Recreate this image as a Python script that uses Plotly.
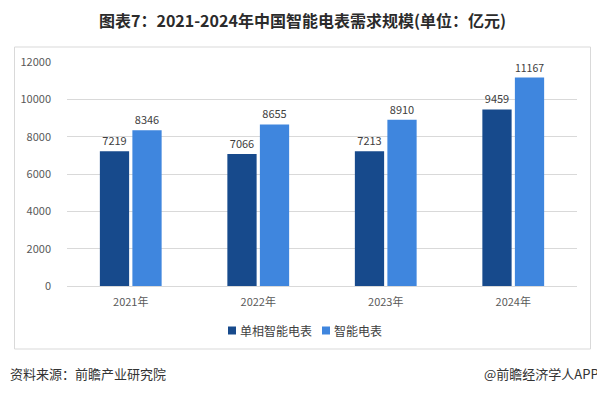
import plotly.graph_objects as go

categories = ["2021年", "2022年", "2023年", "2024年"]
single_phase = [7219, 7066, 7213, 9459]
smart_meter = [8346, 8655, 8910, 11167]
series_names = ["单相智能电表", "智能电表"]
y_ticks = [0, 2000, 4000, 6000, 8000, 10000, 12000]

FONT = "Noto Sans CJK SC, Microsoft YaHei, sans-serif"
DARK = "#174a8c"
LIGHT = "#3f86de"

# the page body has an 8px margin; work in figure pixels = reference pixels - 8
OFF = 8
W, H = 605 - OFF, 394 - OFF
L, R, T, B = 67 - OFF, 28, 62 - OFF, 108
pw, ph = W - L - R, H - T - B


def px_x(p):
    return (p - OFF - L) / pw


def px_y(p):
    return (H + OFF - B - p) / ph


fig = go.Figure()
for name, vals, col in [(series_names[0], single_phase, DARK),
                        (series_names[1], smart_meter, LIGHT)]:
    fig.add_trace(go.Bar(
        x=categories, y=vals, name=name,
        marker=dict(color=col, line=dict(width=0)),
        text=vals, textposition="outside", cliponaxis=False,
        textfont=dict(size=11, color="#404040", family=FONT),
        showlegend=False,
    ))

# custom legend (small squares close to text, as in the reference)
shapes = [dict(type="rect", xref="paper", yref="paper",
               x0=px_x(14.5), x1=px_x(590.5), y0=px_y(349), y1=px_y(47),
               line=dict(color="#d9d9d9", width=1), layer="below")]
annotations = []
legend_items = [(series_names[0], DARK, 228, 237.5),
                (series_names[1], LIGHT, 322, 331.5)]
for name, col, sx, tx in legend_items:
    shapes.append(dict(type="rect", xref="paper", yref="paper",
                       x0=px_x(sx), x1=px_x(sx + 8),
                       y0=px_y(334.5), y1=px_y(326.5),
                       fillcolor=col, line=dict(width=0)))
    annotations.append(dict(text=name, xref="paper", yref="paper",
                            x=px_x(tx), y=px_y(330.5), xanchor="left",
                            yanchor="middle", showarrow=False,
                            font=dict(size=12, color="#404040", family=FONT)))

annotations += [
    dict(text="<b>图表7：2021-2024年中国智能电表需求规模(单位：亿元)</b>",
         xref="paper", yref="paper", x=px_x(302), y=px_y(20.5),
         xanchor="center", yanchor="middle", showarrow=False,
         font=dict(size=16, color="#2b2b2b", family=FONT)),
    dict(text="资料来源：前瞻产业研究院", xref="paper", yref="paper",
         x=px_x(8), y=px_y(373), xanchor="left", yanchor="middle",
         showarrow=False, font=dict(size=13, color="#333333", family=FONT)),
    dict(text="@前瞻经济学人APP", xref="paper", yref="paper",
         x=px_x(601), y=px_y(373), xanchor="right", yanchor="middle",
         showarrow=False, font=dict(size=13, color="#333333", family=FONT)),
]

fig.update_layout(
    width=W, height=H,
    margin=dict(l=L, r=R, t=T, b=B, pad=0),
    paper_bgcolor="white", plot_bgcolor="white",
    font=dict(family=FONT, size=11, color="#595959"),
    barmode="group", bargap=0.49, bargroupgap=0.1,
    showlegend=False,
    xaxis=dict(showgrid=False, showline=False, ticks="",
               ticklabelstandoff=8,
               tickfont=dict(size=11, color="#595959")),
    yaxis=dict(range=[0, 12000], tickvals=y_ticks, tickformat="d",
               showgrid=True, gridcolor="#d9d9d9", gridwidth=1,
               zeroline=True, zerolinecolor="#d9d9d9", zerolinewidth=1,
               showline=False, ticks="", ticklabelstandoff=15,
               tickfont=dict(size=11, color="#595959")),
    shapes=shapes,
    annotations=annotations,
)

fig.write_html("out.html")
